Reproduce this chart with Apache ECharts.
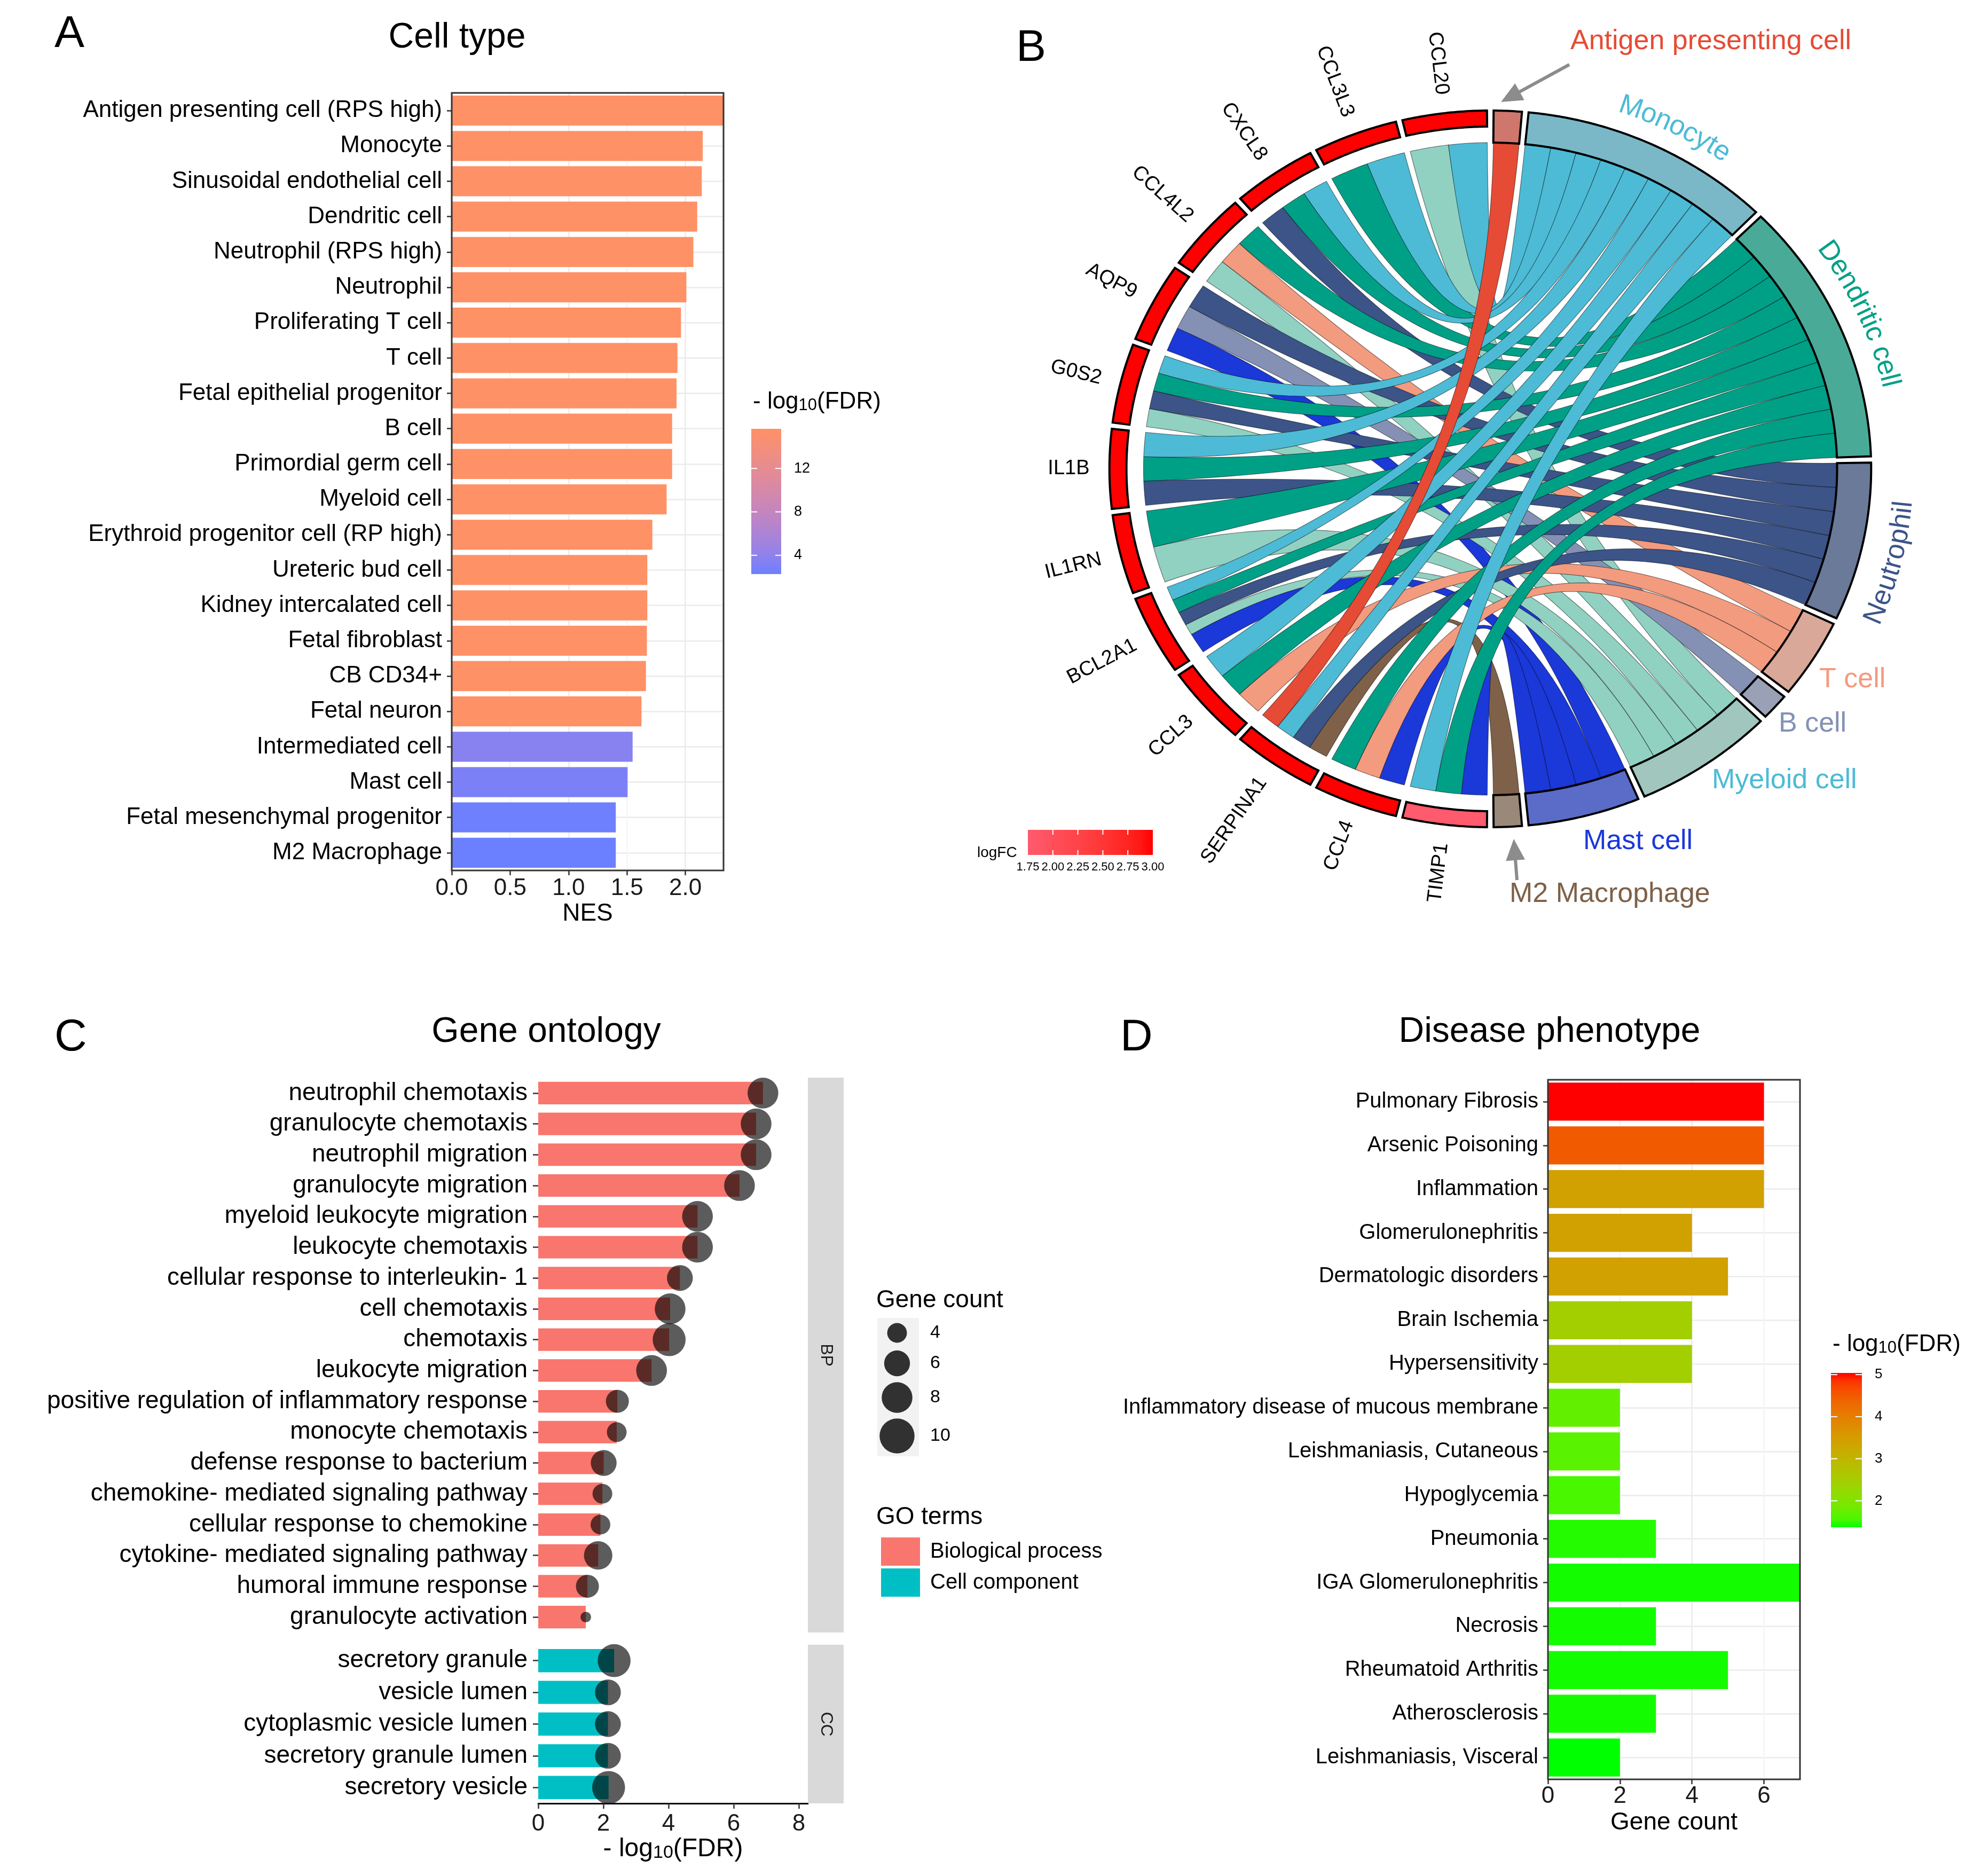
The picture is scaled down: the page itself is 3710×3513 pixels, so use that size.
<!DOCTYPE html>
<html>
<head>
<meta charset="utf-8">
<script src="https://cdn.jsdelivr.net/npm/echarts@6/dist/echarts.min.js"></script>
<style>
html,body{margin:0;padding:0;background:#ffffff;}
#chart{width:3710px;height:3513px;}
</style>
</head>
<body>
<div id="chart"></div>
<script>
// ================= DATA =================
// Panel A : Cell type enrichment
const cellTypeCategories = ['Antigen presenting cell (RPS high)','Monocyte','Sinusoidal endothelial cell','Dendritic cell','Neutrophil (RPS high)','Neutrophil','Proliferating T cell','T cell','Fetal epithelial progenitor','B cell','Primordial germ cell','Myeloid cell','Erythroid progenitor cell (RP high)','Ureteric bud cell','Kidney intercalated cell','Fetal fibroblast','CB CD34+','Fetal neuron','Intermediated cell','Mast cell','Fetal mesenchymal progenitor','M2 Macrophage'];
const cellTypeNES = [2.326,2.148,2.140,2.101,2.068,2.008,1.962,1.932,1.924,1.886,1.886,1.839,1.717,1.674,1.674,1.670,1.662,1.624,1.548,1.505,1.404,1.404];
const cellTypeLogFDR = [15.65,15.65,15.65,15.65,15.65,15.65,15.65,15.65,15.65,15.65,15.65,15.65,15.65,15.65,15.65,15.65,15.65,15.65,3.6,3.0,2.4,2.27];
const nesTicks = [0,0.5,1,1.5,2];
const cellTypeFDRTicks = [4,8,12];

// Panel B : chord diagram (genes <-> cell types)
const chordCells = ['Antigen presenting cell','Monocyte','Dendritic cell','Neutrophil','T cell','B cell','Myeloid cell','Mast cell','M2 Macrophage'];
const chordGenes = ['TIMP1','CCL4','SERPINA1','CCL3','BCL2A1','IL1RN','IL1B','G0S2','AQP9','CCL4L2','CXCL8','CCL3L3','CCL20'];
const chordGeneLogFC = [1.75,3.0,3.0,3.0,3.0,3.0,3.0,3.0,3.0,3.0,3.0,3.0,3.0];
const chordLinks = [
  ['CCL20','Myeloid cell',1],['CCL20','Monocyte',1],
  ['CCL3L3','Dendritic cell',1],['CCL3L3','Monocyte',1],
  ['CXCL8','Neutrophil',1],['CXCL8','Dendritic cell',1],['CXCL8','Monocyte',1],
  ['CCL4L2','Myeloid cell',1],['CCL4L2','T cell',1],['CCL4L2','Dendritic cell',1],
  ['AQP9','Mast cell',1],['AQP9','B cell',1],['AQP9','Neutrophil',1],
  ['G0S2','Myeloid cell',1],['G0S2','Neutrophil',1],['G0S2','Dendritic cell',1],['G0S2','Monocyte',1],
  ['IL1B','Neutrophil',1],['IL1B','Dendritic cell',1],['IL1B','Monocyte',1],
  ['IL1RN','Myeloid cell',1],['IL1RN','Dendritic cell',1],
  ['BCL2A1','Mast cell',1.5],['BCL2A1','Myeloid cell',0.8],['BCL2A1','Neutrophil',1],['BCL2A1','Dendritic cell',1],['BCL2A1','Monocyte',1],
  ['CCL3','T cell',1],['CCL3','Dendritic cell',1],['CCL3','Monocyte',1],
  ['SERPINA1','M2 Macrophage',1],['SERPINA1','Neutrophil',1],['SERPINA1','Monocyte',1],['SERPINA1','Antigen presenting cell',1],
  ['CCL4','Mast cell',1],['CCL4','T cell',1],['CCL4','Dendritic cell',1],
  ['TIMP1','Mast cell',1],['TIMP1','Dendritic cell',1],['TIMP1','Monocyte',1]
];
const logFCTicks = [1.75,2.00,2.25,2.50,2.75,3.00];

// Panel C : Gene ontology
const goBPTerms = ['neutrophil chemotaxis','granulocyte chemotaxis','neutrophil migration','granulocyte migration','myeloid leukocyte migration','leukocyte chemotaxis','cellular response to interleukin- 1','cell chemotaxis','chemotaxis','leukocyte migration','positive regulation of inflammatory response','monocyte chemotaxis','defense response to bacterium','chemokine- mediated signaling pathway','cellular response to chemokine','cytokine- mediated signaling pathway','humoral immune response','granulocyte activation'];
const goBPLogFDR = [6.90,6.69,6.69,6.18,4.89,4.89,4.35,4.05,4.02,3.48,2.43,2.41,2.01,1.97,1.91,1.84,1.51,1.46];
const goBPCount = [8,8,8,8,8,8,6,8,9,8,5,4,6,4,4,7,5,2];
const goCCTerms = ['secretory granule','vesicle lumen','cytoplasmic vesicle lumen','secretory granule lumen','secretory vesicle'];
const goCCLogFDR = [2.33,2.14,2.14,2.14,2.16];
const goCCCount = [9,6,6,6,9];
const goFDRTicks = [0,2,4,6,8];
const geneCountKeys = [4,6,8,10];

// Panel D : Disease phenotype
const diseaseTerms = ['Pulmonary Fibrosis','Arsenic Poisoning','Inflammation','Glomerulonephritis','Dermatologic disorders','Brain Ischemia','Hypersensitivity','Inflammatory disease of mucous membrane','Leishmaniasis, Cutaneous','Hypoglycemia','Pneumonia','IGA Glomerulonephritis','Necrosis','Rheumatoid Arthritis','Atherosclerosis','Leishmaniasis, Visceral'];
const diseaseGeneCount = [6,6,6,4,5,4,4,2,2,2,3,7,3,5,3,2];
const diseaseLogFDR = [5.04,4.5,3.38,3.38,3.38,2.45,2.45,1.72,1.66,1.55,1.46,1.42,1.42,1.42,1.42,1.37];
const diseaseFDRTicks = [2,3,4,5];
const geneCountTicks = [0,2,4,6];

// ================= STYLE HELPERS =================
const FONT = '"Liberation Sans", Arial, Helvetica, sans-serif';
function hexToRgb(h){h=h.replace('#','');return [parseInt(h.slice(0,2),16),parseInt(h.slice(2,4),16),parseInt(h.slice(4,6),16)];}
function rgbToLab(c){const f=v=>{v/=255;return v<=0.04045?v/12.92:Math.pow((v+0.055)/1.055,2.4);};const R=f(c[0]),G=f(c[1]),B=f(c[2]);
  const X=(0.4124*R+0.3576*G+0.1805*B)/0.95047,Y=0.2126*R+0.7152*G+0.0722*B,Z=(0.0193*R+0.1192*G+0.9505*B)/1.08883;
  const g=t=>t>0.008856?Math.cbrt(t):7.787*t+16/116;const fx=g(X),fy=g(Y),fz=g(Z);return [116*fy-16,500*(fx-fy),200*(fy-fz)];}
function labToHex(l){const fy=(l[0]+16)/116,fx=fy+l[1]/500,fz=fy-l[2]/200;const inv=t=>t>0.206893?t*t*t:(t-16/116)/7.787;
  const X=inv(fx)*0.95047,Y=inv(fy),Z=inv(fz)*1.08883;
  const R=3.2406*X-1.5372*Y-0.4986*Z,G=-0.9689*X+1.8758*Y+0.0415*Z,B=0.0557*X-0.2040*Y+1.0570*Z;
  const g=v=>{v=Math.max(0,Math.min(1,v));v=v<=0.0031308?12.92*v:1.055*Math.pow(v,1/2.4)-0.055;return Math.round(v*255);};
  return '#'+[g(R),g(G),g(B)].map(v=>v.toString(16).padStart(2,'0')).join('');}
function labMix(lo,hi,t){const A=rgbToLab(hexToRgb(lo)),B=rgbToLab(hexToRgb(hi));t=Math.max(0,Math.min(1,t));return labToHex([A[0]+(B[0]-A[0])*t,A[1]+(B[1]-A[1])*t,A[2]+(B[2]-A[2])*t]);}
function labRamp(lo,hi,n){const out=[];for(let i=0;i<n;i++)out.push(labMix(lo,hi,i/(n-1)));return out;}

const rampA = labRamp('#6B80FF','#FF9166',21);
const rampD = labRamp('#00FF00','#FF0000',21);
const rampFC = labRamp('#FF5A6E','#FF0000',11);
const fdrAMin = Math.min(...cellTypeLogFDR), fdrAMax = Math.max(...cellTypeLogFDR);
const fdrDMin = Math.min(...diseaseLogFDR), fdrDMax = Math.max(...diseaseLogFDR);
const fcMin = Math.min(...chordGeneLogFC), fcMax = Math.max(...chordGeneLogFC);
const geneCountToDiameter = c => Math.sqrt(Math.max(0, 487*c - 579));

const cellRibbonColors = ['#E64B35','#4DBBD5','#00A087','#3C5488','#F39B7F','#8491B4','#91D1C2','#1B38D8','#7E6148'];
const cellRingColors = ['#D0776D','#7AB8C8','#4AAA98','#6A7A98','#D9A898','#9AA0B5','#A0C6BE','#5A6CC8','#9A8878'];
const cellLabelColors = ['#E64B35','#4DBBD5','#00A087','#3C5488','#F39B7F','#8491B4','#4DBBD5','#1B38D8','#7E6148'];

// ================= CHORD RENDER =================
function chordRenderItem(params, api){
  const cx=2791, cy=878, kx=1.063;
  const rLink=611, rCellOut=671, rCellIn=611, rGeneOut=671, rGeneIn=641, rGeneLabel=706;
  const gap=1.0;
  const rad=d=>d*Math.PI/180;
  const P=(d,r)=>[cx+kx*r*Math.sin(rad(d)), cy-r*Math.cos(rad(d))];
  const arcPts=(d1,d2,r)=>{const n=Math.max(2,Math.ceil(Math.abs(d2-d1)/0.4));const pts=[];for(let i=0;i<=n;i++)pts.push(P(d1+(d2-d1)*i/n,r));return pts;};
  const bez=(p0,p2)=>{const pts=[];for(let i=1;i<=48;i++){const t=i/48,m=1-t;pts.push([m*m*p0[0]+2*m*t*cx+t*t*p2[0], m*m*p0[1]+2*m*t*cy+t*t*p2[1]]);}return pts;};

  const cellCount = chordCells.map(c=>chordLinks.filter(l=>l[1]===c).length);
  const units = cellCount.reduce((a,b)=>a+b,0);
  const u = (180 - chordCells.length*gap)/units;
  const cellSpan=[]; let th=gap/2;
  chordCells.forEach((c,i)=>{cellSpan.push([th,th+cellCount[i]*u]); th+=cellCount[i]*u+gap;});
  const S=(180 - chordGenes.length*gap)/chordGenes.length;
  const geneSpan=[]; th=180+gap/2;
  chordGenes.forEach(()=>{geneSpan.push([th,th+S]); th+=S+gap;});

  const ends = chordLinks.map(()=>({}));
  chordGenes.forEach((g,gi)=>{
    const idx = chordLinks.map((l,k)=>k).filter(k=>chordLinks[k][0]===g)
      .sort((a,b)=>chordCells.indexOf(chordLinks[b][1])-chordCells.indexOf(chordLinks[a][1]));
    const ws = idx.reduce((s,k)=>s+chordLinks[k][2],0);
    let t=geneSpan[gi][0];
    idx.forEach(k=>{const w=S*chordLinks[k][2]/ws; ends[k].g=[t,t+w]; t+=w;});
  });
  chordCells.forEach((c,ci)=>{
    const idx = chordLinks.map((l,k)=>k).filter(k=>chordLinks[k][1]===c)
      .sort((a,b)=>chordGenes.indexOf(chordLinks[b][0])-chordGenes.indexOf(chordLinks[a][0]));
    let t=cellSpan[ci][0];
    idx.forEach(k=>{ends[k].c=[t,t+u]; t+=u;});
  });

  const children=[];
  chordLinks.forEach((l,k)=>{
    const [a1,a2]=ends[k].g, [b1,b2]=ends[k].c;
    const pts = arcPts(a1,a2,rLink)
      .concat(bez(P(a2,rLink),P(b1,rLink)))
      .concat(arcPts(b1,b2,rLink).slice(1))
      .concat(bez(P(b2,rLink),P(a1,rLink)));
    children.push({type:'polygon', shape:{points:pts}, style:{fill:cellRibbonColors[chordCells.indexOf(l[1])], stroke:'rgba(0,0,0,0.5)', lineWidth:1.2}});
  });
  chordCells.forEach((c,ci)=>{
    const [s,e]=cellSpan[ci];
    children.push({type:'polygon', shape:{points:arcPts(s,e,rCellOut).concat(arcPts(e,s,rCellIn))}, style:{fill:cellRingColors[ci], stroke:'#000', lineWidth:4, lineJoin:'miter'}});
  });
  chordGenes.forEach((g,gi)=>{
    const [s,e]=geneSpan[gi];
    const col = labMix('#FF5A6E','#FF0000',(chordGeneLogFC[gi]-fcMin)/(fcMax-fcMin));
    children.push({type:'polygon', shape:{points:arcPts(s,e,rGeneOut).concat(arcPts(e,s,rGeneIn))}, style:{fill:col, stroke:'#000', lineWidth:4, lineJoin:'miter'}});
    const m=(s+e)/2, p=P(m,rGeneLabel);
    children.push({type:'text', x:p[0], y:p[1], rotation:Math.atan2(-Math.cos(rad(m)),-Math.sin(rad(m))),
      style:{text:g, fontSize:38, fontFamily:FONT, fill:'#000', align:'right', verticalAlign:'middle'}});
  });
  const ctx=document.createElement('canvas').getContext('2d');
  ctx.font='52px "Liberation Sans", Arial, sans-serif';
  const curved=[{name:'Monocyte',at:27,r:720,dir:1},{name:'Dendritic cell',at:66,r:722,dir:1},{name:'Neutrophil',at:104,r:732,dir:-1}];
  curved.forEach(spec=>{
    const ci=chordCells.indexOf(spec.name);
    const chars=[...spec.name]; const ws=chars.map(ch=>ctx.measureText(ch).width);
    const L=ws.reduce((a,b)=>a+b,0);
    const s=spec.r*Math.sqrt(Math.pow(kx*Math.cos(rad(spec.at)),2)+Math.pow(Math.sin(rad(spec.at)),2))*Math.PI/180;
    let ang=spec.at-spec.dir*L/(2*s);
    chars.forEach((ch,i)=>{
      const mid=ang+spec.dir*ws[i]/(2*s); const p=P(mid,spec.r);
      const rot = spec.dir>0 ? Math.atan2(-Math.sin(rad(mid)), kx*Math.cos(rad(mid))) : Math.atan2(Math.sin(rad(mid)), -kx*Math.cos(rad(mid)));
      children.push({type:'text', x:p[0], y:p[1], rotation:rot, style:{text:ch, fontSize:52, fontFamily:FONT, fill:cellLabelColors[ci], align:'center', verticalAlign:'middle'}});
      ang+=spec.dir*ws[i]/s;
    });
  });
  return {type:'group', children};
}

// ================= GRAPHIC (titles, legends, frames) =================
const G=[];
function txt(x,y,text,size,o){o=o||{};G.push({type:'text',x:x,y:y,z:60,rotation:o.rotation||0,
  style:{text:text,fontSize:size,fontFamily:FONT,fill:o.color||'#000',align:o.align||'left',verticalAlign:'middle',rich:o.rich}});}
function subRich(size){return {a:{fontSize:size,lineHeight:size,fontFamily:FONT,fill:'#000'},s:{fontSize:Math.round(size*0.7),lineHeight:Math.round(size*0.36),verticalAlign:'bottom',fontFamily:FONT,fill:'#000'}};}
function rect(x,y,w,h,style,z){G.push({type:'rect',z:z||40,shape:{x:x,y:y,width:w,height:h},style:style});}
function line(x1,y1,x2,y2,color,w,z){G.push({type:'line',z:z||61,shape:{x1:x1,y1:y1,x2:x2,y2:y2},style:{stroke:color,lineWidth:w}});}
function arrow(x1,y1,x2,y2){const dx=x2-x1,dy=y2-y1,L=Math.hypot(dx,dy),ux=dx/L,uy=dy/L,hl=40,hw=18;
  line(x1,y1,x2-ux*hl*0.8,y2-uy*hl*0.8,'#8C8C8C',6);
  G.push({type:'polygon',z:61,shape:{points:[[x2,y2],[x2-ux*hl-uy*hw,y2-uy*hl+ux*hw],[x2-ux*hl+uy*hw,y2-uy*hl-ux*hw]]},style:{fill:'#8C8C8C'}});}
function grad(ramp,vertical,reverse){const r=reverse?ramp.slice().reverse():ramp;return {type:'linear',x:0,y:0,x2:vertical?0:1,y2:vertical?1:0,colorStops:r.map((c,i)=>({offset:i/(r.length-1),color:c}))};}

txt(102,65,'A',84); txt(1903,91,'B',84); txt(102,1944,'C',84); txt(2098,1944,'D',84);
txt(856,71,'Cell type',66,{align:'center'});
txt(1023,1933,'Gene ontology',66,{align:'center'});
txt(2902,1933,'Disease phenotype',66,{align:'center'});
rect(846,174,509,1456,{fill:'none',stroke:'#333',lineWidth:3},55);
rect(2899,2022,472,1310,{fill:'none',stroke:'#333',lineWidth:3},55);

// Panel A legend
txt(1410,753,'{a|- log}{s|10}{a|(FDR)}',44,{rich:subRich(44)});
rect(1407,803,56,272,{fill:grad(rampA,true,true)},40);
cellTypeFDRTicks.forEach(v=>{const y=803+(fdrAMax-v)/(fdrAMax-fdrAMin)*272;
  line(1407,y,1418,y,'#fff',2); line(1452,y,1463,y,'#fff',2); txt(1487,y,String(v),27);});

// Panel B annotations
txt(2941,78,'Antigen presenting cell',52,{color:cellLabelColors[0]});
txt(3407,1273,'T cell',52,{color:cellLabelColors[4]});
txt(3331,1356,'B cell',52,{color:cellLabelColors[5]});
txt(3206,1462,'Myeloid cell',52,{color:cellLabelColors[6]});
txt(2965,1576,'Mast cell',52,{color:cellLabelColors[7]});
txt(2827,1675,'M2 Macrophage',52,{color:cellLabelColors[8]});
arrow(2939,121,2811,191);
arrow(2841,1648,2835,1571);
txt(1830,1597,'logFC',28);
rect(1925,1554,234,47,{fill:grad(rampFC,false,false)},40);
logFCTicks.forEach(v=>{const x=1925+(v-fcMin)/(fcMax-fcMin)*234;
  if(v>fcMin&&v<fcMax){line(x,1554,x,1563,'#fff',2);line(x,1592,x,1601,'#fff',2);}
  txt(x,1624,v.toFixed(2),22,{align:'center'});});

// Panel C strips & legends
rect(1513,2018,67,1039,{fill:'#D9D9D9'},40);
rect(1513,3080,67,297,{fill:'#D9D9D9'},40);
txt(1546.5,2537.5,'BP',32,{align:'center',rotation:-Math.PI/2,color:'#1A1A1A'});
txt(1546.5,3228.5,'CC',32,{align:'center',rotation:-Math.PI/2,color:'#1A1A1A'});
txt(1641,2435,'Gene count',46);
rect(1643,2468,78,259,{fill:'#F2F2F2'},40);
const keyY=[2496,2553,2617,2689];
geneCountKeys.forEach((c,i)=>{const d=geneCountToDiameter(c);
  G.push({type:'circle',z:45,shape:{cx:1680,cy:keyY[i],r:d/2},style:{fill:'rgba(0,0,0,0.8)'}});
  txt(1742,keyY[i],String(c),34);});
txt(1641,2841,'GO terms',46);

// Panel D legend
txt(3432,2518,'{a|- log}{s|10}{a|(FDR)}',44,{rich:subRich(44)});
rect(3429,2571,58,289,{fill:grad(rampD,true,true)},40);
diseaseFDRTicks.forEach(v=>{const y=2571+(fdrDMax-v)/(fdrDMax-fdrDMin)*289;
  line(3429,y,3441,y,'#fff',2); line(3475,y,3487,y,'#fff',2); txt(3511,y,String(v),26);});

// ================= OPTION =================
const axisTxt={color:'#1a1a1a',fontFamily:FONT};
const tickStyle={color:'#333',width:2.5};
const nameRich={a:{fontSize:48,lineHeight:48,fontFamily:FONT,color:'#000'},s:{fontSize:34,lineHeight:17,verticalAlign:'bottom',fontFamily:FONT,color:'#000'}};

const option={
  animation:false,
  backgroundColor:'#ffffff',
  textStyle:{fontFamily:FONT},
  grid:[
    {left:846,top:174,width:509,height:1456},
    {left:1008,top:2018,width:505,height:1039},
    {left:1008,top:3080,width:505,height:297},
    {left:2899,top:2022,width:472,height:1310}
  ],
  xAxis:[
    {gridIndex:0,type:'value',min:0,max:Math.max(...cellTypeNES),interval:0.25,
      axisLine:{show:false},
      axisTick:{show:true,customValues:nesTicks,length:9,lineStyle:tickStyle},
      axisLabel:{customValues:nesTicks,formatter:v=>v.toFixed(1),fontSize:44,margin:12,...axisTxt},
      splitLine:{show:true,lineStyle:{color:['#EBEBEB','#F5F5F5'],width:2.5}},
      name:'NES',nameLocation:'middle',nameGap:58,nameTextStyle:{fontSize:46,color:'#000',fontFamily:FONT}},
    {gridIndex:1,type:'value',min:0,max:8.28,interval:2,show:false,splitLine:{show:false}},
    {gridIndex:2,type:'value',min:0,max:8.28,interval:2,
      axisLine:{show:true,lineStyle:{color:'#000',width:3}},
      axisTick:{show:true,customValues:goFDRTicks,length:10,lineStyle:tickStyle},
      axisLabel:{customValues:goFDRTicks,fontSize:44,margin:17,...axisTxt},
      splitLine:{show:false},
      name:'{a|- log}{s|10}{a|(FDR)}',nameLocation:'middle',nameGap:62,nameTextStyle:{rich:nameRich}},
    {gridIndex:3,type:'value',min:0,max:Math.max(...diseaseGeneCount),interval:1,
      axisLine:{show:false},
      axisTick:{show:true,customValues:geneCountTicks,length:9,lineStyle:tickStyle},
      axisLabel:{customValues:geneCountTicks,fontSize:44,margin:10,...axisTxt},
      splitLine:{show:true,lineStyle:{color:['#EBEBEB','#F5F5F5'],width:2.5}},
      name:'Gene count',nameLocation:'middle',nameGap:58,nameTextStyle:{fontSize:46,color:'#000',fontFamily:FONT}}
  ],
  yAxis:[
    {gridIndex:0,type:'category',data:cellTypeCategories,inverse:true,
      axisLine:{show:false},axisTick:{show:true,alignWithLabel:true,interval:0,length:9,lineStyle:tickStyle},
      axisLabel:{interval:0,fontSize:44,margin:18,color:'#000',fontFamily:FONT},
      splitLine:{show:true,interval:0,alignWithLabel:true,lineStyle:{color:'#EBEBEB',width:2.5}}},
    {gridIndex:1,type:'category',data:goBPTerms,inverse:true,
      axisLine:{show:false},axisTick:{show:true,alignWithLabel:true,interval:0,length:10,lineStyle:tickStyle},
      axisLabel:{interval:0,fontSize:46,margin:20,color:'#000',fontFamily:FONT},splitLine:{show:false}},
    {gridIndex:2,type:'category',data:goCCTerms,inverse:true,
      axisLine:{show:false},axisTick:{show:true,alignWithLabel:true,interval:0,length:10,lineStyle:tickStyle},
      axisLabel:{interval:0,fontSize:46,margin:20,color:'#000',fontFamily:FONT},splitLine:{show:false}},
    {gridIndex:3,type:'category',data:diseaseTerms,inverse:true,
      axisLine:{show:false},axisTick:{show:true,alignWithLabel:true,interval:0,length:9,lineStyle:tickStyle},
      axisLabel:{interval:0,fontSize:40,margin:18,color:'#000',fontFamily:FONT},
      splitLine:{show:true,interval:0,alignWithLabel:true,lineStyle:{color:'#EBEBEB',width:2.5}}}
  ],
  visualMap:[
    {type:'continuous',show:false,seriesIndex:0,dimension:2,min:fdrAMin,max:fdrAMax,inRange:{color:rampA}},
    {type:'continuous',show:false,seriesIndex:5,dimension:2,min:fdrDMin,max:fdrDMax,inRange:{color:rampD}}
  ],
  legend:{orient:'vertical',left:1645,top:2874,itemWidth:73,itemHeight:53,itemGap:5,
    data:[{name:'Biological process',icon:'rect'},{name:'Cell component',icon:'rect'}],
    textStyle:{fontSize:40,color:'#000',fontFamily:FONT,padding:[0,0,0,14]}},
  series:[
    {type:'bar',name:'Cell type',xAxisIndex:0,yAxisIndex:0,barCategoryGap:'15%',encode:{x:0,y:1},
      data:cellTypeCategories.map((c,i)=>[cellTypeNES[i],c,cellTypeLogFDR[i]])},
    {type:'bar',name:'Biological process',xAxisIndex:1,yAxisIndex:1,barCategoryGap:'27%',itemStyle:{color:'#F8766D'},encode:{x:0,y:1},
      data:goBPTerms.map((t,i)=>[goBPLogFDR[i],t])},
    {type:'scatter',name:'BP gene count',xAxisIndex:1,yAxisIndex:1,encode:{x:0,y:1},z:5,
      symbolSize:d=>geneCountToDiameter(d[2]),itemStyle:{color:'rgba(0,0,0,0.8)'},
      data:goBPTerms.map((t,i)=>[goBPLogFDR[i],t,goBPCount[i]])},
    {type:'bar',name:'Cell component',xAxisIndex:2,yAxisIndex:2,barCategoryGap:'27%',itemStyle:{color:'#00BFC4'},encode:{x:0,y:1},
      data:goCCTerms.map((t,i)=>[goCCLogFDR[i],t])},
    {type:'scatter',name:'CC gene count',xAxisIndex:2,yAxisIndex:2,encode:{x:0,y:1},z:5,
      symbolSize:d=>geneCountToDiameter(d[2]),itemStyle:{color:'rgba(0,0,0,0.8)'},
      data:goCCTerms.map((t,i)=>[goCCLogFDR[i],t,goCCCount[i]])},
    {type:'bar',name:'Disease phenotype',xAxisIndex:3,yAxisIndex:3,barCategoryGap:'13%',encode:{x:0,y:1},
      data:diseaseTerms.map((t,i)=>[diseaseGeneCount[i],t,diseaseLogFDR[i]])},
    {type:'custom',name:'Chord',coordinateSystem:'none',renderItem:chordRenderItem,data:[0],silent:true,z:3}
  ],
  graphic:{elements:G}
};
const chart=echarts.init(document.getElementById('chart'),null,{renderer:'canvas'});
chart.setOption(option);
</script>
</body>
</html>
